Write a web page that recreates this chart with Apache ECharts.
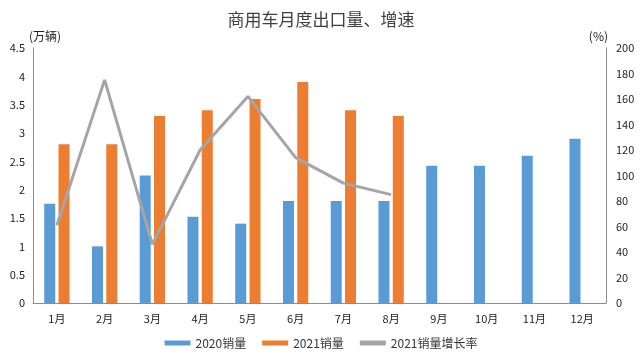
<!DOCTYPE html>
<html><head><meta charset="utf-8">
<script src="https://cdn.jsdelivr.net/npm/echarts@6/dist/echarts.min.js"></script>
<style>html,body{margin:0;padding:0;background:#fff}#c{width:642px;height:358px}</style>
</head><body><div id="c"></div>
<script>
const categories = ['1月','2月','3月','4月','5月','6月','7月','8月','9月','10月','11月','12月'];
const sales2020 = [1.75, 1.0, 2.25, 1.52, 1.4, 1.8, 1.8, 1.8, 2.42, 2.42, 2.6, 2.9];
const sales2021 = [2.8, 2.8, 3.3, 3.4, 3.6, 3.9, 3.4, 3.3, null, null, null, null];
const growth2021 = [61, 175, 46, 120, 162, 114, 94, 85, null, null, null, null];
const leftTicks = ['0','0.5','1','1.5','2','2.5','3','3.5','4','4.5'];

const font = '"Noto Sans CJK SC", "Noto Sans", sans-serif';
const chart = echarts.init(document.getElementById('c'));
chart.setOption({
  animation: false,
  title: { text: '商用车月度出口量、增速', left: 'center', top: 6,
    textStyle: { fontSize: 17, fontWeight: 'normal', color: '#404040', fontFamily: font } },
  legend: { bottom: 4, itemWidth: 26, itemHeight: 5, itemGap: 16,
    textStyle: { fontSize: 12, color: '#333', fontFamily: font },
    data: [{name:'2020销量', icon:'rect'}, {name:'2021销量', icon:'rect'}, {name:'2021销量增长率', icon:'rect'}] },
  grid: { left: 33, right: 36, top: 48, bottom: 55, containLabel: false },
  xAxis: { type: 'category', data: categories,
    axisLine: { lineStyle: { color: '#8c8c8c' } }, axisTick: { show: false },
    axisLabel: { fontSize: 11, color: '#222', fontFamily: font, margin: 10 } },
  yAxis: [
    { type: 'value', min: 0, max: 4.5, interval: 0.5, name: '(万辆)', nameGap: 6,
      nameTextStyle: { fontSize: 12, color: '#222', fontFamily: font, align: 'left', padding: [0,0,0,-4] },
      axisLine: { show: true, lineStyle: { color: '#8c8c8c' } }, axisTick: { show: false }, splitLine: { show: false },
      axisLabel: { fontSize: 11, color: '#222', fontFamily: font, margin: 8,
        formatter: v => leftTicks[Math.round(v / 0.5)] } },
    { type: 'value', min: 0, max: 200, interval: 20, name: '(%)', nameGap: 6,
      nameTextStyle: { fontSize: 12, color: '#222', fontFamily: font, align: 'right', padding: [0,-2,0,0] },
      axisLine: { show: true, lineStyle: { color: '#8c8c8c' } }, axisTick: { show: false }, splitLine: { show: false },
      axisLabel: { fontSize: 11, color: '#222', fontFamily: font, margin: 10 } }
  ],
  series: [
    { name: '2020销量', type: 'bar', data: sales2020, barWidth: 11, barGap: '30%', itemStyle: { color: '#5B9BD5' } },
    { name: '2021销量', type: 'bar', data: sales2021, barWidth: 11, itemStyle: { color: '#ED7D31' } },
    { name: '2021销量增长率', type: 'line', yAxisIndex: 1, data: growth2021, symbol: 'none',
      lineStyle: { color: '#A5A5A5', width: 3 }, itemStyle: { color: '#A5A5A5' } }
  ]
});
</script></body></html>
